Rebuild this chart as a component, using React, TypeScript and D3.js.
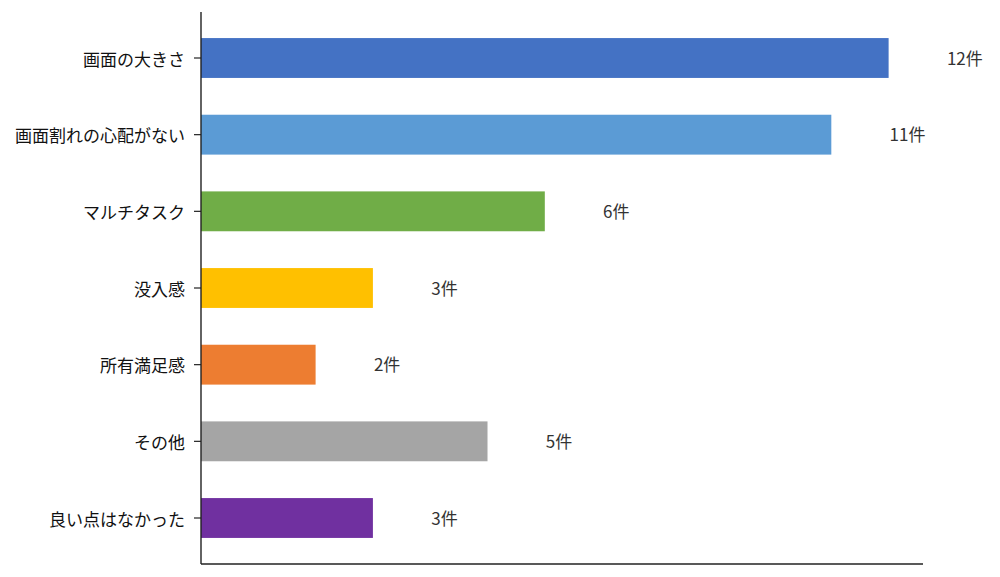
import React from "react";
import * as d3 from "d3";

const categories = ["画面の大きさ", "画面割れの心配がない", "マルチタスク", "没入感", "所有満足感", "その他", "良い点はなかった"];
const values = [12, 11, 6, 3, 2, 5, 3];
const colors = ["#4472C4", "#5B9BD5", "#70AD47", "#FFC000", "#ED7D31", "#A5A5A5", "#7030A0"];
const unit = "件";

const W = 1000;
const H = 577;
const left = 201;
const right = 923;
const top = 12;
const bottom = 564;
const font = "'Noto Sans CJK JP', 'Noto Sans', sans-serif";

export default function App() {
  const x = d3.scaleLinear().domain([0, 12.6]).range([left, right]);
  const y = d3.scaleLinear().domain([-0.6, 6.6]).range([top, bottom]);
  const bh = (y(1) - y(0)) * 0.52;
  return (
    <svg width={W} height={H} style={{ position: "absolute", left: 0, top: 0, background: "#fff" }}>
      {categories.map((c, i) => (
        <g key={c}>
          <rect x={x(0)} y={y(i) - bh / 2} width={x(values[i]) - x(0)} height={bh} fill={colors[i]} />
          <line x1={left - 7} x2={left} y1={y(i)} y2={y(i)} stroke="#222" strokeWidth={1.2} />
          <text x={left - 16} y={y(i)} textAnchor="end" dominantBaseline="central" fontFamily={font} fontSize={17} fill="#111">
            {c}
          </text>
          <text x={x(values[i] + 1) + 1} y={y(i) - 1} textAnchor="start" dominantBaseline="central" fontFamily={font} fontSize={17} fill="#333">
            {values[i] + unit}
          </text>
        </g>
      ))}
      <line x1={left} x2={left} y1={top} y2={bottom} stroke="#222" strokeWidth={1.4} />
      <line x1={left} x2={right} y1={bottom} y2={bottom} stroke="#222" strokeWidth={1.4} />
    </svg>
  );
}
